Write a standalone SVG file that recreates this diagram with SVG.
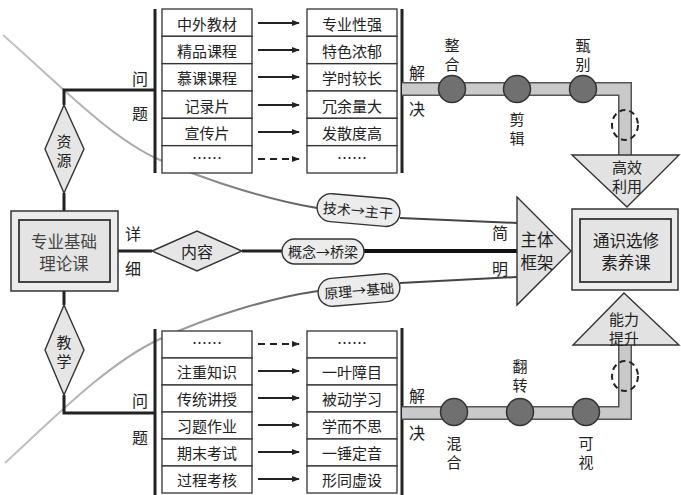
<svg xmlns="http://www.w3.org/2000/svg" width="681" height="495" viewBox="0 0 681 495">
<style>
text{font-family:"Noto Sans CJK SC","Noto Sans",sans-serif;fill:#222;text-anchor:middle;dominant-baseline:central}
.t{font-size:15px}
.l{font-size:16px}
.s{font-size:15px}
.b{font-size:16.5px}
.p{font-size:14px}
.cell{fill:#fff;stroke:#333;stroke-width:1.3}
.bar{stroke:#222;stroke-width:3;fill:none}
.ln{stroke:#222;stroke-width:3;fill:none}
.ar{stroke:#222;stroke-width:2;fill:none;marker-end:url(#ah)}
.ard{stroke:#222;stroke-width:2;fill:none;stroke-dasharray:7 5;marker-end:url(#ah)}
.dia{fill:#e6e6e6;stroke:#333;stroke-width:1.4}
.tri{fill:#e2e2e2;stroke:#333;stroke-width:1.4}
.pill{fill:#ececec;stroke:#333;stroke-width:1.4}
.dot{fill:#707070;stroke:#333;stroke-width:1.5}
.pipeo{stroke:#555;stroke-width:14;fill:none;stroke-linejoin:miter}
.pipei{stroke:#c9c9c9;stroke-width:11;fill:none;stroke-linejoin:miter}
.dash{fill:none;stroke:#222;stroke-width:2;stroke-dasharray:6 4}
</style>
<defs>
<marker id="ah" viewBox="0 0 10 10" refX="9" refY="5" markerWidth="4" markerHeight="4" orient="auto" markerUnits="strokeWidth"><path d="M0,1 L10,5 L0,9 z" fill="#222"/></marker>
<linearGradient id="cg" gradientUnits="userSpaceOnUse" x1="0" y1="0" x2="320" y2="0"><stop offset="0" stop-color="#c4c4c4"/><stop offset="0.55" stop-color="#a0a0a0"/><stop offset="1" stop-color="#555"/></linearGradient>
</defs>

<g id="connectors">
<path d="M3,35 C60,85 110,138 160,160 S270,200 317,208" stroke="url(#cg)" stroke-width="2" fill="none"/>
<path d="M5,463 C60,412 110,362 160,339 S270,298 318,291" stroke="url(#cg)" stroke-width="2" fill="none"/>
<path d="M400,218 L517,223" stroke="#444" stroke-width="2" fill="none"/>
<path d="M400,283 L517,277" stroke="#444" stroke-width="2" fill="none"/>
<path class="ln" d="M64,105 V90 H155"/>
<path class="ln" d="M64,193 V211"/>
<path class="ln" d="M64,291 V305"/>
<path class="ln" d="M64,395 V413 H155"/>
<path class="ln" d="M118,251 H152"/>
<path class="ln" d="M242,251 H282"/>
<path stroke="#111" stroke-width="4" fill="none" d="M364,251 H517"/>
<path class="bar" d="M155,9 V173"/>
<path class="bar" d="M402,9 V173"/>
<path class="bar" d="M155,329 V495"/>
<path class="bar" d="M402,328 V495"/>
<path class="ar" d="M258,23 H299"/>
<path class="ar" d="M258,50 H299"/>
<path class="ar" d="M258,77 H299"/>
<path class="ar" d="M258,105 H299"/>
<path class="ar" d="M258,132 H299"/>
<path class="ard" d="M258,159 H299"/>
<path class="ard" d="M258,344 H299"/>
<path class="ar" d="M258,371 H299"/>
<path class="ar" d="M258,398 H299"/>
<path class="ar" d="M258,425 H299"/>
<path class="ar" d="M258,452 H299"/>
<path class="ar" d="M258,479 H299"/>
<path class="pipeo" d="M402,89 H625 V157"/>
<path class="pipei" d="M402,89 H625 V157"/>
<path class="pipeo" d="M402,413 H625 V343"/>
<path class="pipei" d="M402,413 H625 V343"/>
<ellipse class="dash" cx="625" cy="125" rx="13" ry="15"/>
<ellipse class="dash" cx="625" cy="376" rx="13" ry="15"/>
</g>

<g id="labels">
<text class="l" x="140" y="78">问</text>
<text class="l" x="140" y="113">题</text>
<text class="l" x="140" y="400">问</text>
<text class="l" x="140" y="437">题</text>
<text class="l" x="417" y="72">解</text>
<text class="l" x="417" y="108">决</text>
<text class="l" x="417" y="395">解</text>
<text class="l" x="417" y="432">决</text>
<text class="l" x="133" y="233">详</text>
<text class="l" x="133" y="268">细</text>
<text class="l" x="500" y="232">简</text>
<text class="l" x="500" y="268">明</text>
</g>

<g id="top-table">
<rect class="cell" x="162" y="9" width="90" height="27.3"/>
<rect class="cell" x="162" y="36.3" width="90" height="27.3"/>
<rect class="cell" x="162" y="63.7" width="90" height="27.3"/>
<rect class="cell" x="162" y="91" width="90" height="27.3"/>
<rect class="cell" x="162" y="118.3" width="90" height="27.3"/>
<rect class="cell" x="162" y="145.7" width="90" height="27.3"/>
<text class="t" x="207" y="23">中外教材</text>
<text class="t" x="207" y="50">精品课程</text>
<text class="t" x="207" y="77">慕课课程</text>
<text class="t" x="207" y="105">记录片</text>
<text class="t" x="207" y="132">宣传片</text>
<text class="t" x="207" y="157">……</text>
<rect class="cell" x="307" y="9" width="90" height="27.3"/>
<rect class="cell" x="307" y="36.3" width="90" height="27.3"/>
<rect class="cell" x="307" y="63.7" width="90" height="27.3"/>
<rect class="cell" x="307" y="91" width="90" height="27.3"/>
<rect class="cell" x="307" y="118.3" width="90" height="27.3"/>
<rect class="cell" x="307" y="145.7" width="90" height="27.3"/>
<text class="t" x="352" y="23">专业性强</text>
<text class="t" x="352" y="50">特色浓郁</text>
<text class="t" x="352" y="77">学时较长</text>
<text class="t" x="352" y="105">冗余量大</text>
<text class="t" x="352" y="132">发散度高</text>
<text class="t" x="352" y="157">……</text>
</g>

<g id="bottom-table">
<rect class="cell" x="162" y="331" width="90" height="27"/>
<rect class="cell" x="162" y="358" width="90" height="27"/>
<rect class="cell" x="162" y="385" width="90" height="27"/>
<rect class="cell" x="162" y="412" width="90" height="27"/>
<rect class="cell" x="162" y="439" width="90" height="27"/>
<rect class="cell" x="162" y="466" width="90" height="27"/>
<text class="t" x="207" y="342">……</text>
<text class="t" x="207" y="371">注重知识</text>
<text class="t" x="207" y="398">传统讲授</text>
<text class="t" x="207" y="425">习题作业</text>
<text class="t" x="207" y="452">期末考试</text>
<text class="t" x="207" y="479">过程考核</text>
<rect class="cell" x="307" y="331" width="90" height="27"/>
<rect class="cell" x="307" y="358" width="90" height="27"/>
<rect class="cell" x="307" y="385" width="90" height="27"/>
<rect class="cell" x="307" y="412" width="90" height="27"/>
<rect class="cell" x="307" y="439" width="90" height="27"/>
<rect class="cell" x="307" y="466" width="90" height="27"/>
<text class="t" x="352" y="342">……</text>
<text class="t" x="352" y="371">一叶障目</text>
<text class="t" x="352" y="398">被动学习</text>
<text class="t" x="352" y="425">学而不思</text>
<text class="t" x="352" y="452">一锤定音</text>
<text class="t" x="352" y="479">形同虚设</text>
</g>

<g id="node-ziyuan">
<polygon class="dia" points="64,105 84,149 64,193 45,149"/>
<text class="s" x="64" y="140">资</text>
<text class="s" x="64" y="159">源</text>
</g>
<g id="node-jiaoxue">
<polygon class="dia" points="64,305 84,350 64,395 45,350"/>
<text class="s" x="64" y="341">教</text>
<text class="s" x="64" y="360">学</text>
</g>
<g id="node-base">
<rect x="11" y="211" width="107" height="80" fill="#ececec" stroke="#333" stroke-width="1.5"/>
<rect x="19" y="220" width="91" height="62" fill="#e4e4e4" stroke="#333" stroke-width="1.8"/>
<text class="b" x="64" y="241" style="fill:#444">专业基础</text>
<text class="b" x="64" y="263" style="fill:#444">理论课</text>
</g>
<g id="node-neirong">
<polygon class="dia" points="152,251 197,231 242,251 197,271"/>
<text class="l" x="197" y="251">内容</text>
</g>
<g id="pill-jishu">
<rect class="pill" x="317" y="196" width="83" height="28" rx="14" transform="rotate(5 358 210)"/>
<text class="p" x="358" y="210" transform="rotate(5 358 210)">技术→主干</text>
</g>
<g id="pill-gainian">
<rect class="pill" x="282" y="239" width="82" height="25" rx="12.5"/>
<text class="p" x="323" y="251">概念→桥梁</text>
</g>
<g id="pill-yuanli">
<rect class="pill" x="318" y="276" width="82" height="28" rx="14" transform="rotate(-5 359 290)"/>
<text class="p" x="359" y="290" transform="rotate(-5 359 290)">原理→基础</text>
</g>
<g id="node-zhuti">
<polygon class="tri" points="517,197 571,251 517,305"/>
<text class="b" x="537" y="239">主体</text>
<text class="b" x="537" y="262">框架</text>
</g>
<g id="node-tongshi">
<rect x="572" y="209" width="106" height="81" fill="#ececec" stroke="#333" stroke-width="1.5"/>
<rect x="580" y="219" width="91" height="63" fill="#e4e4e4" stroke="#333" stroke-width="1.8"/>
<text class="b" x="626" y="240">通识选修</text>
<text class="b" x="626" y="262">素养课</text>
</g>
<g id="node-gaoxiao">
<polygon class="tri" points="572,155 679,155 627,207"/>
<text class="s" x="627" y="166">高效</text>
<text class="s" x="627" y="185">利用</text>
</g>
<g id="node-nengli">
<polygon class="tri" points="624,293 679,345 573,345"/>
<text class="s" x="624" y="318">能力</text>
<text class="s" x="624" y="337">提升</text>
</g>
<g id="top-steps">
<circle class="dot" cx="452" cy="89" r="13.5"/>
<circle class="dot" cx="517" cy="89" r="13.5"/>
<circle class="dot" cx="583" cy="89" r="13.5"/>
<text class="s" x="452" y="44">整</text>
<text class="s" x="452" y="63">合</text>
<text class="s" x="517" y="118">剪</text>
<text class="s" x="517" y="137">辑</text>
<text class="s" x="583" y="44">甄</text>
<text class="s" x="583" y="63">别</text>
</g>
<g id="bottom-steps">
<circle class="dot" cx="454" cy="412" r="13.5"/>
<circle class="dot" cx="520" cy="412" r="13.5"/>
<circle class="dot" cx="586" cy="412" r="13.5"/>
<text class="s" x="520" y="365">翻</text>
<text class="s" x="520" y="384">转</text>
<text class="s" x="454" y="442">混</text>
<text class="s" x="454" y="461">合</text>
<text class="s" x="586" y="442">可</text>
<text class="s" x="586" y="461">视</text>
</g>
</svg>
